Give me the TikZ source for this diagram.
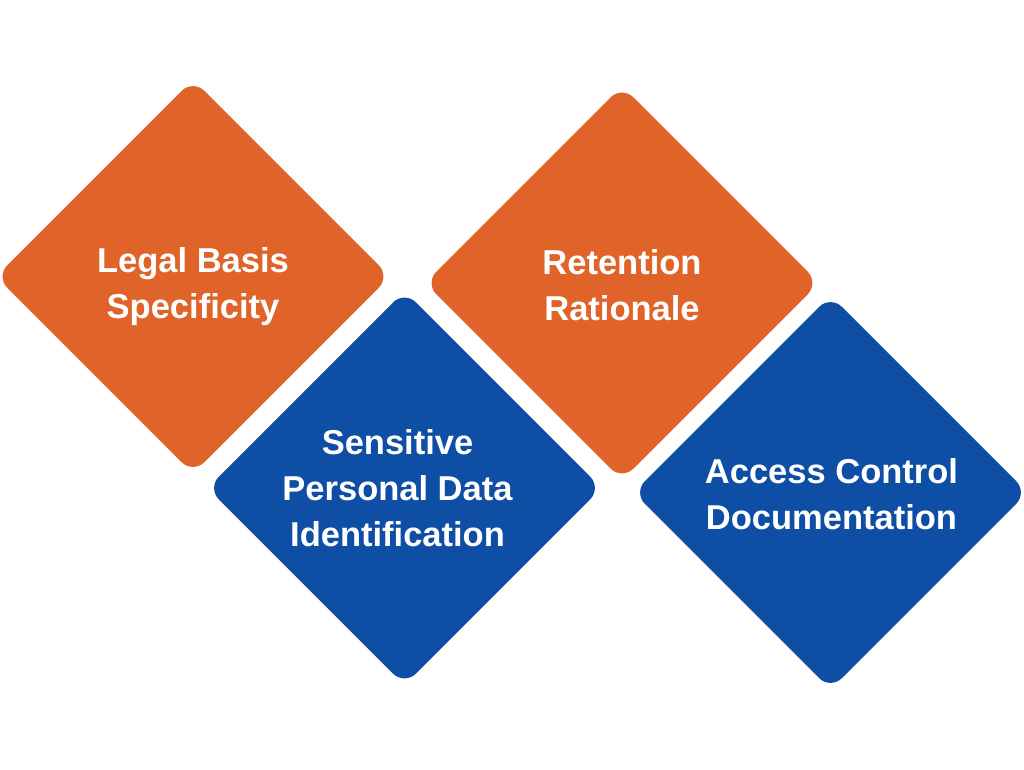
\documentclass[tikz,border=0pt]{standalone}
\usepackage{fontspec}
\setmainfont{Liberation Sans}
\usetikzlibrary{shapes.geometric}
\definecolor{dorange}{HTML}{E06329}
\definecolor{dblue}{HTML}{0E4EA5}
\tikzset{
  dia/.style={diamond, shape aspect=1, minimum width=394pt, minimum height=394pt,
    inner sep=0pt, outer sep=0pt, rounded corners=16pt},
  lbl/.style={text=white, font=\fontsize{34.5}{46}\selectfont\bfseries, align=center, inner sep=0pt}
}
\begin{document}
\begin{tikzpicture}[x=1pt,y=-1pt]
\useasboundingbox[fill=white] (0,0) rectangle (1024,770);
\node[dia, fill=dorange] (d1) at (193,276.5) {};
\node[dia, fill=dblue] (d2) at (404.5,488) {};
\node[dia, fill=dorange] (d3) at (622,283) {};
\node[dia, fill=dblue] (d4) at (830.5,492.5) {};
\node[lbl] (t1) at ([yshift=-10pt]d1.center) {Legal Basis\\Specificity};
\node[lbl] (t2) at ([xshift=-7pt]d2.center) {Sensitive\\Personal Data\\Identification};
\node[lbl] (t3) at ([yshift=-2pt]d3.center) {Retention\\Rationale};
\node[lbl] (t4) at ([xshift=1pt,yshift=-2pt]d4.center) {Access Control\\Documentation};
\end{tikzpicture}
\end{document}
